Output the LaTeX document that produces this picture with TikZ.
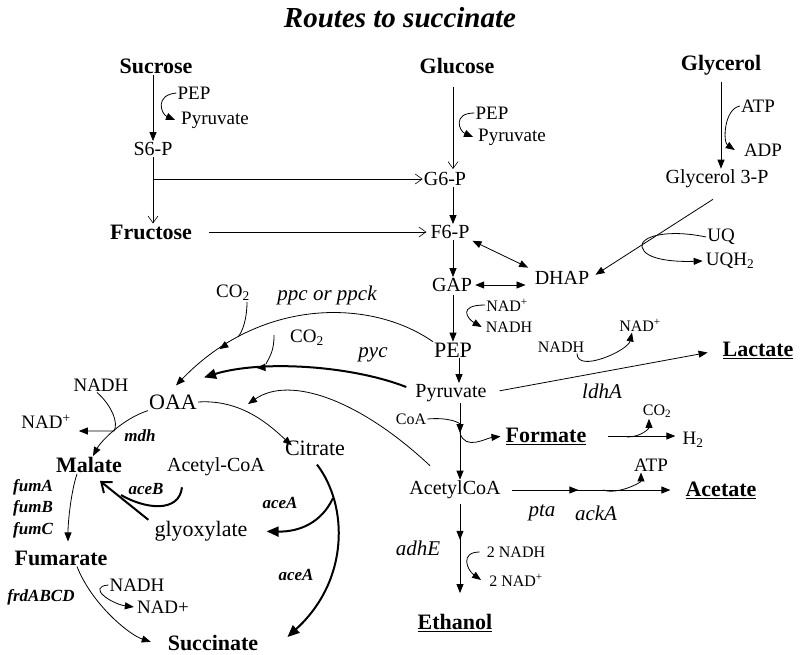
\documentclass[tikz,border=0pt]{standalone}
\usepackage{fontspec}
\setmainfont{Liberation Serif}
\usetikzlibrary{arrows.meta,decorations.markings,calc}

\begin{document}
\begin{tikzpicture}[x=1pt, y=-1pt,
    met/.style={inner sep=1pt, font=\fontsize{20}{22}\selectfont},
    sm/.style={inner sep=1pt, font=\fontsize{19}{21}\selectfont},
    big/.style={inner sep=1pt, font=\fontsize{22}{24}\selectfont},
    main/.style={inner sep=1pt, font=\fontsize{22}{24}\selectfont\bfseries},
    cof/.style={inner sep=1pt, font=\fontsize{16}{18}\selectfont},
    gene/.style={inner sep=1pt, font=\fontsize{21}{23}\selectfont\itshape},
    bgene/.style={inner sep=1pt, font=\fontsize{17}{19}\selectfont\bfseries\itshape},
    ln/.style={line width=0.8pt},
    arr/.style={-{Triangle[length=9pt,width=7pt]}, line width=0.8pt},
    oarr/.style={-{Straight Barb[length=7pt,width=10pt]}, line width=0.6pt},
    dbl/.style={{Triangle[length=9pt,width=7pt]}-{Triangle[length=9pt,width=7pt]}, line width=0.8pt},
    thk/.style={-{Triangle[length=12pt,width=10pt]}, line width=2pt},
    midarr/.style={postaction={decorate, decoration={markings,
        mark=at position #1 with {\arrow{Triangle[length=9pt,width=7pt]}}}}}
]
    \useasboundingbox (0,0) rectangle (800,654);

    % Title
    \node[font=\fontsize{29}{31}\selectfont\bfseries\itshape] (title) at (400,18) {Routes to succinate};

    % Sugars and glycerol
    \node[main] (suc) at (156,66) {Sucrose};
    \node[main] (glc) at (457,66) {Glucose};
    \node[main] (gly) at (721,65) {Glycerol};
    \node[sm] (pep1) at (194,93) {PEP};
    \node[sm] (pyr1) at (215,120) {Pyruvate};
    \node[met] (s6p) at (153,149) {S6-P};
    \node[main] (fru) at (151,232) {Fructose};
    \node[sm] (pep2) at (492,113) {PEP};
    \node[sm] (pyr2) at (512,137) {Pyruvate};
    \node[sm] (atp1) at (758,106) {ATP};
    \node[sm] (adp) at (763,150) {ADP};
    \node[met] (g3p) at (717,179) {Glycerol 3-P};
    \node[sm] (uq) at (721,237) {UQ};
    \node[sm] (uqh) at (730,261) {UQH\textsubscript{2}};

    % Glycolysis
    \coordinate (col) at (453,0);
    \node[met] (g6p) at (445,179) {G6-P};
    \node[met] (f6p) at (450,232) {F6-P};
    \node[met] (gap) at (452,285) {GAP};
    \node[met] (dhap) at (562,278) {DHAP};
    \node[cof] (nadp1) at (507,305) {NAD\textsuperscript{+}};
    \node[cof] (nadh1) at (509,327) {NADH};
    \node[big] (pep) at (453,350) {PEP};
    \node[met] (pyr) at (451,393) {Pyruvate};

    % Fermentation products
    \node[cof] (nadh2) at (561,347) {NADH};
    \node[cof] (nadp2) at (640,325) {NAD\textsuperscript{+}};
    \node[main] (lac) at (758,350) {\underline{Lactate}};
    \node[gene] (ldh) at (602,391) {ldhA};
    \node[cof] (coa) at (411,419) {CoA};
    \node[main] (form) at (546,436) {\underline{Formate}};
    \node[cof] (co2c) at (657,411) {CO\textsubscript{2}};
    \node[sm] (h2) at (693,440) {H\textsubscript{2}};
    \node[met] (acoa) at (455,490) {AcetylCoA};
    \node[sm] (atp2) at (651,465) {ATP};
    \node[main] (ace) at (721,490) {\underline{Acetate}};
    \node[gene] (pta) at (542,513) {pta};
    \node[gene] (ack) at (596,513) {ackA};
    \node[gene] (adh) at (418,548) {adhE};
    \node[cof] (nadh3) at (516,552) {2 NADH};
    \node[cof] (nadp3) at (516,580) {2 NAD\textsuperscript{+}};
    \node[main] (eth) at (455,623) {\underline{Ethanol}};

    % Reductive branch and glyoxylate shunt
    \node[sm] (co2a) at (233,293) {CO\textsubscript{2}};
    \node[gene] (ppc) at (327,295) {ppc or ppck};
    \node[sm] (co2b) at (307,338) {CO\textsubscript{2}};
    \node[gene] (pyc) at (373,355) {pyc};
    \node[big] (oaa) at (173,402) {OAA};
    \node[sm] (nadh4) at (101,385) {NADH};
    \node[sm] (nadp4) at (46,422) {NAD\textsuperscript{+}};
    \node[bgene] (mdh) at (140,436) {mdh};
    \node[main] (mal) at (89,465) {Malate};
    \node[met] (acoa2) at (216,467) {Acetyl-CoA};
    \node[bgene] (aceb) at (146,489) {aceB};
    \node[big] (glx) at (201,531) {glyoxylate};
    \node[bgene] (fuma) at (33,487) {fumA};
    \node[bgene] (fumb) at (33,508) {fumB};
    \node[bgene] (fumc) at (33,530) {fumC};
    \node[main] (fum) at (61,558) {Fumarate};
    \node[bgene] (frd) at (41,597) {frdABCD};
    \node[sm] (nadh5) at (137,585) {NADH};
    \node[sm] (nadp5) at (163,607) {NAD+};
    \node[main] (succ) at (213,643) {Succinate};
    \node[big] (cit) at (315,448) {Citrate};
    \node[bgene] (acea1) at (280,503) {aceA};
    \node[bgene] (acea2) at (296,575) {aceA};

    % Sucrose route
    \draw[arr] (s6p.north |- suc.south) -- (s6p.north);
    \draw[arr] (pep1.west) .. controls +(-22,2) and +(-14,-6) .. ([xshift=-5pt]pyr1.west);
    \draw[oarr] (s6p.south) -- (s6p.south |- fru.north);
    \draw[oarr] (s6p.south |- g6p.west) -- (g6p.west);
    \draw[oarr, shorten <=16pt, shorten >=3pt] (fru.east) -- (fru.east -| f6p.west);

    % Glucose route
    \draw[oarr, shorten <=12pt, shorten >=2pt] (col |- glc.south) -- (col |- g6p.north);
    \draw[arr] (pep2.west) .. controls +(-22,0) and +(-14,-6) .. ([xshift=-4pt]pyr2.west);
    \draw[arr] (col |- g6p.south) -- (col |- f6p.north);
    \draw[arr] (col |- f6p.south) -- (col |- gap.north);
    \draw[arr, shorten <=2pt] (col |- gap.south) -- (col |- pep.north);
    \draw[arr] (nadp1.west) .. controls +(-28,0) and +(-14,-8) .. ([xshift=-3pt]nadh1.west);
    \draw[dbl, shorten <=2pt, shorten >=6pt] (f6p.south east) -- (dhap.north west);
    \draw[dbl, shorten <=2pt, shorten >=8pt] (gap.east) -- (dhap.west |- gap.east);

    % Glycerol route
    \draw[arr, shorten <=6pt] (gly.south) -- (gly.south |- g3p.north);
    \draw[arr] (atp1.west) .. controls +(-16,3) and +(-12,-8) .. ([xshift=-8pt]adp.west);
    \draw[arr, shorten >=6pt] ([xshift=-4pt, yshift=-10pt]g3p.south) -- (dhap.east);
    \draw[arr] (uq.west) .. controls (668,229) and (640,236) .. (642,247)
        .. controls (645,260) and (675,262) .. ([xshift=-2pt]uqh.west);

    % Pyruvate node
    \draw[arr] ([xshift=6pt]pep.south) -- ([xshift=8pt]pyr.north);
    \draw[arr, shorten <=12pt, shorten >=14pt] (pyr.east) -- (lac.west);
    \draw[arr] ([xshift=16pt]nadh2.south) .. controls +(0,20) and +(-4,18) .. ([xshift=-8pt]nadp2.south);
    \draw[arr] ([xshift=9pt]pyr.south) -- ([xshift=5pt]acoa.north);
    \coordinate (j1) at (460,433);
    \draw[arr] (coa.east) .. controls +(22,-2) and +(0,-10) .. (j1);
    \draw[arr, shorten >=4pt] (j1) .. controls +(5,18) and +(-18,2) .. (form.west);
    \draw[arr, shorten >=6pt] ([xshift=20pt]form.east) -- (form.east -| h2.west);
    \coordinate (j2) at (627,437);
    \draw[arr] (j2) .. controls +(14,0) and +(0,10) .. ([xshift=-8pt]co2c.south);

    % Acetate and ethanol
    \draw[arr, midarr=0.42] ([xshift=10pt]acoa.east) -- ([xshift=-14pt]ace.west);
    \coordinate (j3) at (603,490);
    \draw[arr] (j3) .. controls +(15,5) and +(0,10) .. ([xshift=-10pt]atp2.south);
    \draw[arr, midarr=0.4] ([xshift=5pt, yshift=-4pt]acoa.south) -- ([xshift=5pt, yshift=20pt]eth.north);
    \draw[arr] ([xshift=-6pt]nadh3.west) .. controls +(-20,0) and +(-14,-10) .. ([xshift=-7pt]nadp3.west);

    % Carboxylation to OAA
    \draw[arr, midarr=0.8] (pep.north west) .. controls (370,298) and (260,298) .. ([xshift=3pt, yshift=8pt]oaa.north);
    \coordinate (j4) at (238,337);
    \draw[ln] ([xshift=14pt]co2a.south) .. controls +(0,16) and +(5,-6) .. (j4);
    \draw[thk, midarr=0.74] ([xshift=-8pt, yshift=6pt]pyr.west) .. controls (350,365) and (260,360) .. ([xshift=6pt, yshift=16pt]oaa.north east);
    \coordinate (j5) at (266,364);
    \draw[ln] ([xshift=-15pt, yshift=3pt]co2b.west) .. controls +(0,16) and +(4,-8) .. (j5);

    % Reductive TCA branch
    \draw[arr] (oaa.south west) .. controls +(-25,8) and +(8,-15) .. ([xshift=4pt]mal.north);
    \coordinate (j6) at (114,431);
    \draw[arr, shorten >=7pt] ([xshift=-4pt]nadh4.south) .. controls +(14,12) and +(5,-8) .. (j6) -- (j6 -| nadp4.east);
    \draw[arr] ([xshift=-12pt]mal.south) .. controls +(-6,18) and +(0,-20) .. ([xshift=7pt, yshift=8pt]fum.north);
    \draw[arr, shorten >=4pt] ([xshift=16pt]fum.south) .. controls +(15,38) and +(-25,-8) .. ([xshift=-12pt]succ.west);
    \draw[arr] (nadh5.west) .. controls +(-22,2) and +(-22,-3) .. ([xshift=-2pt]nadp5.west);

    % Glyoxylate shunt
    \draw[line width=2pt, -{Straight Barb[length=9pt,width=14pt]}] ([xshift=-5pt]glx.north west) -- ([xshift=11pt, yshift=-7pt]mal.south);
    \coordinate (j7) at (121,495);
    \draw[line width=2pt] ([xshift=-34pt, yshift=-10pt]acoa2.south) .. controls +(-3,26) and +(24,14) .. (j7);
    \draw[arr] (oaa.east) .. controls +(45,-3) and +(-20,-18) .. ([xshift=8pt, yshift=-6pt]cit.north west);
    \coordinate (j8) at (248,404);
    \draw[arr] ([xshift=-25pt, yshift=14pt]acoa.north) .. controls (360,400) and (290,375) .. (j8);
    \draw[thk] ([xshift=2pt, yshift=-8pt]cit.south) .. controls (348,505) and (350,580) .. ([xshift=28pt, yshift=6pt]succ.east);
    \coordinate (j9) at (333,498);
    \draw[thk, shorten >=18pt] (j9) .. controls (322,522) and (300,532) .. (glx.east);
\end{tikzpicture}
\end{document}
